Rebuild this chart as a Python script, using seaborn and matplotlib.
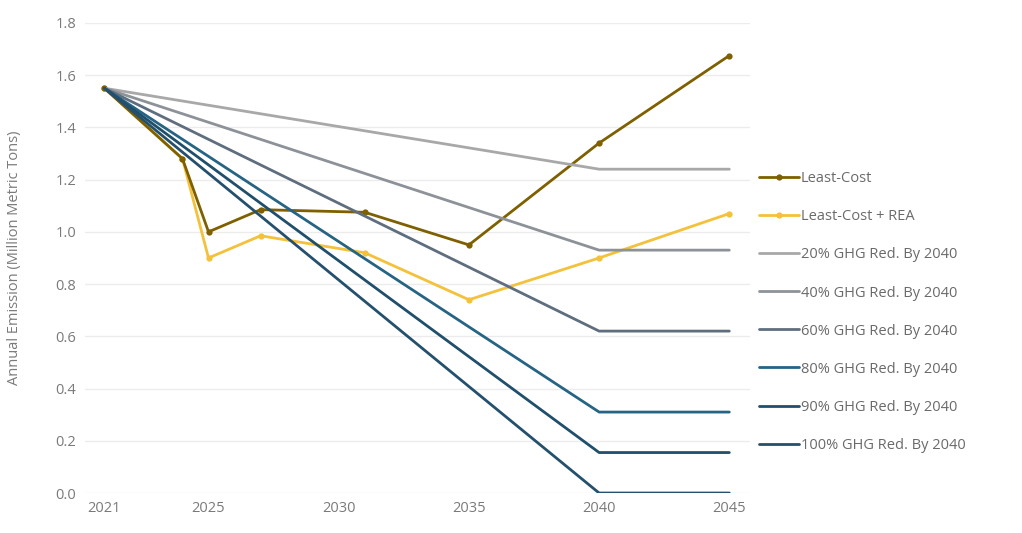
import matplotlib
matplotlib.use("Agg")
import matplotlib.pyplot as plt
import seaborn as sns
import pandas as pd

# emission pathways, million metric tons
lc_years = [2021, 2024, 2025, 2027, 2031, 2035, 2040, 2045]
least_cost = [1.55, 1.28, 1.00, 1.085, 1.075, 0.95, 1.34, 1.675]
least_cost_rea = [1.55, 1.28, 0.90, 0.985, 0.92, 0.74, 0.90, 1.07]

ghg_years = [2021, 2040, 2045]
ghg_20 = [1.55, 1.24, 1.24]
ghg_40 = [1.55, 0.93, 0.93]
ghg_60 = [1.55, 0.62, 0.62]
ghg_80 = [1.55, 0.31, 0.31]
ghg_90 = [1.55, 0.155, 0.155]
ghg_100 = [1.55, 0.0, 0.0]

xticks = [2021, 2025, 2030, 2035, 2040, 2045]

sns.set_style("white")
plt.rcParams['font.family'] = ['Open Sans', 'DejaVu Sans']

fig = plt.figure(figsize=(10.22, 5.33), dpi=100)
ax = fig.add_axes([0.083, 0.075, 0.651, 0.882])

series = [
    ("Least-Cost", lc_years, least_cost, "#7f6000", "o", 1.6),
    ("Least-Cost + REA", lc_years, least_cost_rea, "#f3c13a", "o", 1.5),
    ("20% GHG Red. By 2040", ghg_years, ghg_20, "#a8a8a8", None, 2),
    ("40% GHG Red. By 2040", ghg_years, ghg_40, "#8d9299", None, 2),
    ("60% GHG Red. By 2040", ghg_years, ghg_60, "#5e6e7e", None, 2),
    ("80% GHG Red. By 2040", ghg_years, ghg_80, "#266484", None, 2),
    ("90% GHG Red. By 2040", ghg_years, ghg_90, "#1f4f6b", None, 2),
    ("100% GHG Red. By 2040", ghg_years, ghg_100, "#24506e", None, 2),
]

for name, yrs, vals, col, mk, z in series:
    df = pd.DataFrame({"Year": yrs, "Emission": vals})
    sns.lineplot(data=df, x="Year", y="Emission", ax=ax, color=col, lw=2,
                 marker=mk, markersize=4.5, markeredgewidth=0, label=name, zorder=z)

ax.set_xlim(2020.25, 2045.8)
ax.set_ylim(0, 1.8)
ax.set_xticks(xticks)
ax.set_yticks([i * 0.2 for i in range(10)])
ax.set_yticklabels([f"{i * 0.2:.1f}" for i in range(10)])
ax.grid(axis='y', color='#ececec', lw=1)
ax.set_axisbelow(True)
for s in ax.spines.values():
    s.set_visible(False)
ax.tick_params(axis='both', length=0, labelsize=10.5, colors='#7a7a7a', pad=6)
ax.set_xlabel("")
ax.set_ylabel("Annual Emission (Million Metric Tons)", fontsize=10.5, color='#7a7a7a', labelpad=24)

ax.legend(loc='center left', bbox_to_anchor=(0.993, 0.385), frameon=False,
          fontsize=10.5, labelcolor='#6a6a6a', handlelength=2.8, handletextpad=0.1,
          labelspacing=1.58)

plt.savefig("out.png", dpi=100)
